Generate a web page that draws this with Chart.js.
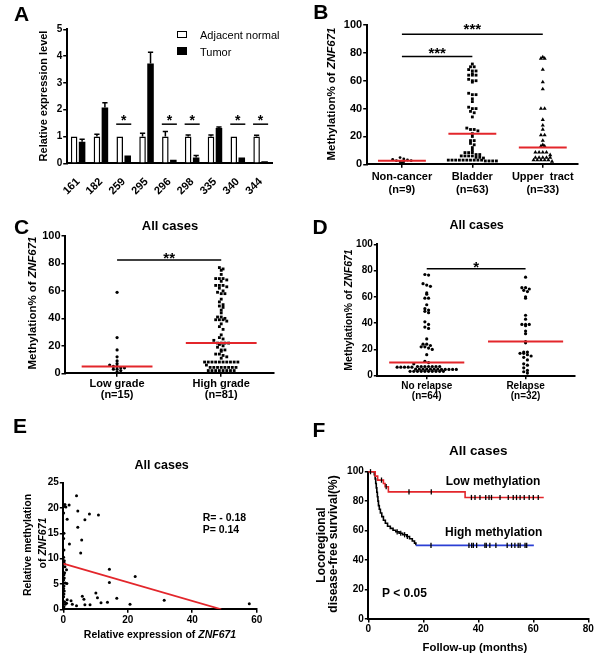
<!DOCTYPE html>
<html>
<head>
<meta charset="utf-8">
<title>ZNF671 methylation and expression</title>
<script src="https://cdn.jsdelivr.net/npm/chart.js@4.4.1/dist/chart.umd.min.js"></script>
<style>
  body {margin: 0; background: #fff;}
  #fig {position: relative; width: 600px; height: 663px; overflow: hidden;
        font-family: "Liberation Sans", Arial, sans-serif; color: #000;}
  #fig canvas {position: absolute;}
  .t {position: absolute; white-space: nowrap; line-height: 1; font-weight: bold;
      transform: translate(-50%, -50%);}
  .v {transform: translate(-50%, -50%) rotate(-90deg);}
  .l {transform: translate(0, -50%);}
  .key {position: absolute; width: 8.6px; height: 5.3px; border: 1.5px solid #000;}
</style>
</head>
<body>
<div id="fig">
  <canvas id="cA"></canvas>
  <canvas id="cB"></canvas>
  <canvas id="cC"></canvas>
  <canvas id="cD"></canvas>
  <canvas id="cE"></canvas>
  <canvas id="cF"></canvas>

  <div class="t" style="left:21.7px;top:12.5px;font-size:21px">A</div>
  <div class="t" style="left:320.8px;top:10.8px;font-size:21px">B</div>
  <div class="t" style="left:21.7px;top:225.7px;font-size:21px">C</div>
  <div class="t" style="left:320px;top:225.7px;font-size:21px">D</div>
  <div class="t" style="left:20px;top:425px;font-size:21px">E</div>
  <div class="t" style="left:319px;top:429px;font-size:21px">F</div>

  <!-- A -->
  <div class="key" style="left:176.7px;top:31px;background:#fff"></div>
  <div class="key" style="left:176.7px;top:47.3px;background:#000"></div>
  <div class="t l" style="left:200px;top:35px;font-size:11px;font-weight:normal">Adjacent normal</div>
  <div class="t l" style="left:200px;top:51.7px;font-size:11px;font-weight:normal">Tumor</div>
  <div class="t v" style="left:43.3px;top:95.8px;font-size:11px">Relative expression level</div>

  <!-- B -->
  <div class="t v" style="left:331.7px;top:94.2px;font-size:11.5px">Methylation% of <i>ZNF671</i></div>

  <!-- C -->
  <div class="t" style="left:170px;top:225px;font-size:13px">All cases</div>
  <div class="t v" style="left:33.3px;top:302.5px;font-size:11.5px">Methylation% of <i>ZNF671</i></div>

  <!-- D -->
  <div class="t" style="left:476.7px;top:225px;font-size:12.5px">All cases</div>
  <div class="t v" style="left:348.3px;top:310px;font-size:10.5px">Methylation% of <i>ZNF671</i></div>

  <!-- E -->
  <div class="t" style="left:161.7px;top:465px;font-size:12.5px">All cases</div>
  <div class="t v" style="left:26.7px;top:545px;font-size:10.5px">Relative methylation</div>
  <div class="t v" style="left:41.7px;top:543px;font-size:10.5px">of <i>ZNF671</i></div>
  <div class="t" style="left:160px;top:634.3px;font-size:10.5px">Relative expression of <i>ZNF671</i></div>
  <div class="t l" style="left:202.7px;top:517px;font-size:10.5px">R= - 0.18</div>
  <div class="t l" style="left:202.7px;top:528.7px;font-size:10.5px">P= 0.14</div>

  <!-- F -->
  <div class="t" style="left:478.3px;top:450.7px;font-size:13.5px">All cases</div>
  <div class="t v" style="left:320.7px;top:545px;font-size:12px">Locoregional</div>
  <div class="t v" style="left:333.3px;top:544px;font-size:12px">disease-free survival(%)</div>
  <div class="t" style="left:475px;top:647.7px;font-size:11.3px">Follow-up (months)</div>
  <div class="t" style="left:493px;top:480.7px;font-size:12px">Low methylation</div>
  <div class="t" style="left:493.7px;top:531.7px;font-size:12px">High methylation</div>
  <div class="t" style="left:404.5px;top:593.3px;font-size:12px">P &lt; 0.05</div>
</div>

<script>
// ---------- A: relative expression, adjacent normal vs tumor
var primers = ['161', '182', '259', '295', '296', '298', '335', '340', '344'];
var normalExpr = [1, 1, 1, 1, 1, 1, 1, 1, 1];
var normalErr = [0, 0.08, 0, 0.12, 0.19, 0.06, 0.06, 0, 0.05];
var tumorExpr = [0.8, 2.08, 0.29, 3.72, 0.13, 0.22, 1.32, 0.22, 0.08];
var tumorErr = [0.1, 0.18, 0, 0.42, 0, 0.07, 0.03, 0, 0];
var sigPrimers = ['259', '296', '298', '340', '344'];
var sigLevelA = 1.46, starLevelA = 1.72;

// ---------- B: methylation by tissue
var groupsB = [['Non-cancer', '(n=9)'], ['Bladder', '(n=63)'], ['Upper  tract', '(n=33)']];
var nonCancer = [3.6, 2.6, 1.9, 4.8, 1.2, 1.9, 3.1, 3.8, 2.6];
var bladder = [72, 70, 70, 68, 67, 67, 65, 64, 64, 64, 61, 60, 60, 59,
  51, 50, 50, 47, 45, 41, 40, 40, 38, 37, 34,
  26, 25, 25, 24, 22, 20, 17, 17, 15, 14, 12, 10,
  8.4, 8.4, 8.4, 7, 7, 6, 6, 6, 6, 5, 5, 4.5, 3, 3, 3, 3, 3, 3, 3, 3, 3, 3, 2.4, 2.4, 2.4, 2.4];
var upperTract = [77, 76, 76, 68, 59, 54, 40, 40, 32, 28, 25, 21, 21, 17, 14, 13, 13,
  8.6, 8.6, 8.6, 8.6, 6.7, 4.8, 4.8, 4.8, 4.8, 4.8, 3, 3, 3, 3, 3, 2];
var medianB = [2.5, 22, 12];
var sigB = [[1, 2, 77.3], [1, 3, 93.3]];
var starsB = [[1.5, 82.6, '***'], [2, 100, '***']];

// ---------- C: methylation by grade
var groupsC = [['Low grade', '(n=15)'], ['High grade', '(n=81)']];
var lowGrade = [59, 26, 17, 12, 9, 7, 6, 5, 5, 4, 4, 3, 3, 2, 1];
var highGrade = [77, 76, 75, 72, 69, 69, 69, 68, 67, 64, 64, 64, 63, 62, 60, 59, 58, 58,
  54, 52, 50, 49, 48, 46, 44, 41, 41, 40, 39, 39, 39, 38, 36, 34, 32,
  28, 26, 25, 24, 22, 22, 22, 22, 21, 20, 19, 17, 17, 16, 14, 14, 13, 12, 11,
  8.2, 8.2, 8.2, 8.2, 8.2, 8.2, 8.2, 8.2, 8.2, 8.2, 6, 4.3, 4.3, 4.3, 4.3, 4.3, 4.3, 4.3, 4.3,
  2, 2, 2, 2, 2, 2, 2, 2];
var medianC = [5, 22];
var sigC = [[1, 2, 82.6]];
var starsC = [[1.5, 86.8, '**']];

// ---------- D: methylation by relapse
var groupsD = [['No relapse', '(n=64)'], ['Relapse', '(n=32)']];
var noRelapse = [77, 76.6, 70, 69, 68, 63, 62, 59, 59, 54, 51, 50, 49, 48, 41, 39, 37, 36,
  28, 24, 24, 23, 22, 22, 21, 20, 16, 11, 10, 9,
  7, 7, 7, 7, 7, 7, 7, 6.5, 6.5, 6.5, 6.5, 6.5,
  5, 5, 5, 5, 5, 5, 5, 4.8, 4.8, 4.8, 4.8, 4.8,
  3.3, 3.3, 3.3, 3.3, 3.3, 3.3, 3.3, 3.3, 3.3, 3.3];
var relapse = [75, 67, 67, 66, 65, 64, 60, 59, 46, 43, 39, 39, 39, 38, 34, 32, 26, 25,
  18, 18, 17, 17, 16, 15, 14, 12, 9, 8, 6, 4, 3, 2];
var medianD = [10, 26];
var sigD = [[1, 2, 81.3]];
var starsD = [[1.5, 85.6, '*']];

// ---------- E: methylation vs expression
var exprE = [4.1, 0.5, 1.8, 0.2, 4.5, 8.1, 10.9, 1.2, 6.7, 4.5, 5.7, 1.9, 5.4, 14.3, 22.3, 14.3,
  5.9, 6.4, 10.1, 10.6, 11.7, 13.7, 16.6, 20.7, 31.3, 57.7, 1.2, 2.4, 2.8, 4.1, 6.7, 8.3, 1.0, 0.6,
  0.1, 0.2, 0.1, 0.2, 0.1, 0.3, 0.5, 1.0, 0.4, 0.2, 0.3, 0.1, 0.6, 1.1, 0.2, 0.1, 0.3, 0.2, 0.1,
  0.4, 0.2, 0.8, 0.3];
var methE = [22.4, 20.7, 20.6, 20.3, 19.4, 18.8, 18.6, 17.8, 17.7, 16.2, 13.7, 12.9, 11.1, 7.9, 6.5, 5.3,
  2.6, 2.0, 3.2, 2.3, 1.3, 1.4, 2.2, 1.0, 1.8, 1.1, 1.9, 1.7, 1.0, 0.7, 0.9, 0.9, 1.2, 1.0,
  19.0, 15.0, 14.0, 11.7, 10.3, 9.1, 8.4, 7.8, 7.2, 6.8, 6.2, 5.8, 5.2, 5.1, 4.6, 4.1, 3.6, 3.0, 2.5,
  1.5, 0.5, 20.2, 9.6];
var fitX = [0, 49];
var fitY = [9, 0];

// ---------- F: Kaplan-Meier, locoregional disease-free survival
var lowTime = [0, 2.5, 3.4, 5.5, 6.1, 7.3, 35.2, 63.8];
var lowSurv = [100, 97, 94.3, 92, 89.8, 86.3, 82.5, 82.5];
var lowCens = [0.8, 4.8, 6.5, 14.8, 22.9, 37.5, 38.8, 40.6, 42.7, 43.9, 44.8, 47.9, 50.9, 52.7,
  53.9, 55.2, 56.7, 58.5, 60, 61.8];
var highTime = [0, 2.2, 2.5, 2.7, 2.9, 3.1, 3.3, 3.5, 3.7, 4.0, 4.4, 4.9, 5.5, 6.2, 7.0, 8.0,
  9.0, 10.0, 11.2, 12.5, 14.0, 15.0, 16.0, 16.8, 17.3, 60.2];
var highSurv = [100, 98, 95, 92, 89, 86, 83, 80, 77, 74.5, 72, 69.5, 67, 65, 63, 61.5,
  60.3, 59.2, 58.2, 57.2, 56, 54.5, 53, 51.5, 50, 50];
var highCens = [10.5, 11.8, 13.2, 14.2, 22.8, 36.6, 37.6, 38.2, 39.4, 42.4, 42.9, 44.2, 46.4,
  50.5, 52.1, 53.3, 54.5, 55.2, 57, 57.6];

var FONT = '"Liberation Sans", Arial, sans-serif';
var RED = '#e3262b', BLUE = '#2b3fd4';
Chart.defaults.font.family = FONT;
Chart.defaults.color = '#000';

// canvas box (x, y, w, h) and plot area (l, t, r, b), page pixels
var boxA = {x: 0, y: 0, w: 300, h: 200, l: 66.7, t: 29.3, r: 272, b: 163.3};
var boxB = {x: 300, y: 0, w: 300, h: 200, l: 366.7, t: 25, r: 578, b: 164.3};
var boxC = {x: 0, y: 200, w: 300, h: 205, l: 65, t: 236, r: 273.3, b: 373.3};
var boxD = {x: 300, y: 200, w: 300, h: 205, l: 377.3, t: 244.3, r: 575, b: 375.7};
var boxE = {x: 0, y: 420, w: 300, h: 243, l: 63.3, t: 482.7, r: 256.7, b: 609.3};
var boxF = {x: 300, y: 420, w: 300, h: 243, l: 368.3, t: 471.7, r: 588.3, b: 619};

function place(id, box) {
  var c = document.getElementById(id);
  c.width = box.w; c.height = box.h;
  c.style.left = box.x + 'px'; c.style.top = box.y + 'px';
  return c;
}

function baseOptions(box, scales) {
  return {
    responsive: false, animation: false, events: [],
    layout: {padding: {left: 0, top: box.t - box.y, right: box.x + box.w - box.r, bottom: 0}},
    plugins: {legend: {display: false}, tooltip: {enabled: false}},
    scales: scales
  };
}

function yAxis(box, min, max, step, size) {
  return {
    type: 'linear', position: 'left', min: min, max: max,
    ticks: {stepSize: step, padding: 1, color: '#000', font: {size: size, weight: 'bold'}},
    grid: {drawOnChartArea: false, color: '#000', lineWidth: 1.5, tickLength: 3.5},
    border: {color: '#000', width: 2},
    afterFit: function (s) { s.width = box.l - box.x; }
  };
}

function xAxis(box, min, max, step, size) {
  return {
    type: 'linear', position: 'bottom', min: min, max: max,
    ticks: {stepSize: step, padding: 1, color: '#000', maxRotation: 0, font: {size: size, weight: 'bold'}},
    grid: {drawOnChartArea: false, color: '#000', lineWidth: 1.5, tickLength: 3.5},
    border: {color: '#000', width: 2},
    afterFit: function (s) { s.height = box.y + box.h - box.b; }
  };
}

// group axis for the dot plots: one tick per column
function groupAxis(box, groups, size, lineHeight) {
  var ax = xAxis(box, 0.5, groups.length + 0.5, 1, size);
  ax.ticks.padding = 2.5;
  ax.ticks.autoSkip = false;
  ax.ticks.font.lineHeight = lineHeight;
  ax.ticks.callback = function (v) { return groups[v - 1]; };
  ax.afterBuildTicks = function (s) {
    s.ticks = groups.map(function (g, i) { return {value: i + 1}; });
  };
  return ax;
}

// sig lines + stars, in data units
function marks(lines, stars, size) {
  return {
    id: 'marks',
    afterDatasetsDraw: function (chart) {
      var ctx = chart.ctx, xs = chart.scales.x, ys = chart.scales.y;
      ctx.save();
      ctx.strokeStyle = '#000'; ctx.fillStyle = '#000'; ctx.lineWidth = 1.5;
      lines.forEach(function (l) {
        var y = ys.getPixelForValue(l[2]);
        ctx.beginPath();
        ctx.moveTo(xs.getPixelForValue(l[0]), y);
        ctx.lineTo(xs.getPixelForValue(l[1]), y);
        ctx.stroke();
      });
      ctx.font = 'bold ' + size + 'px ' + FONT;
      ctx.textAlign = 'center'; ctx.textBaseline = 'alphabetic';
      stars.forEach(function (s) {
        ctx.fillText(s[2], xs.getPixelForValue(s[0]), ys.getPixelForValue(s[1]) + 0.57 * size);
      });
      ctx.restore();
    }
  };
}

// column scatter layout: values falling in the same pixel row are spread
// sideways, centred on the column (pixel offsets)
function swarm(vals, pxPerUnit, rowPx, gap) {
  var rows = {}, off = [];
  vals.forEach(function (v, i) {
    var r = Math.round(v * pxPerUnit / rowPx);
    (rows[r] = rows[r] || []).push(i);
  });
  Object.keys(rows).forEach(function (r) {
    var ids = rows[r], n = ids.length;
    ids.forEach(function (id, k) { off[id] = (k - (n - 1) / 2) * gap; });
  });
  return off;
}

function dotPlot(id, box, groups, sets, shapes, radii, medians, halfW, sig, stars, tickSize, lineHeight) {
  var catW = (box.r - box.l) / groups.length, pxY = (box.b - box.t) / 100;
  var datasets = [];
  medians.forEach(function (m, g) {
    datasets.push({data: [{x: g + 1 - halfW, y: m}, {x: g + 1 + halfW, y: m}], showLine: true,
      borderColor: RED, borderWidth: 2, pointRadius: 0, order: 0});
  });
  sets.forEach(function (vals, g) {
    var off = swarm(vals, pxY, 3.5, 3.7);
    datasets.push({
      data: vals.map(function (v, i) { return {x: g + 1 + off[i] / catW, y: v}; }),
      pointStyle: shapes[g], pointRadius: radii[g], backgroundColor: '#000', borderWidth: 0,
      clip: false, order: 1
    });
  });
  return new Chart(place(id, box), {
    type: 'scatter',
    data: {datasets: datasets},
    options: baseOptions(box, {
      x: groupAxis(box, groups, tickSize, lineHeight),
      y: yAxis(box, 0, 100, 20, tickSize)
    }),
    plugins: [marks(sig, stars, 15)]
  });
}

// ---------- A
(function () {
  var sigLines = [], sigStars = [];
  sigPrimers.forEach(function (p) {
    var i = primers.indexOf(p);
    sigLines.push([i - 0.33, i + 0.33, sigLevelA]);
    sigStars.push([i, starLevelA, '*']);
  });
  var errorBars = {
    id: 'errorBars',
    afterDatasetsDraw: function (chart) {
      var ctx = chart.ctx, ys = chart.scales.y;
      ctx.save();
      ctx.strokeStyle = '#000'; ctx.lineWidth = 1.5;
      chart.data.datasets.forEach(function (d, di) {
        chart.getDatasetMeta(di).data.forEach(function (bar, j) {
          var e = d.errorBars[j];
          if (!e) return;
          var y0 = ys.getPixelForValue(d.data[j]), y1 = ys.getPixelForValue(d.data[j] + e);
          var hw = bar.width * 0.4;
          ctx.beginPath();
          ctx.moveTo(bar.x, y0); ctx.lineTo(bar.x, y1);
          ctx.moveTo(bar.x - hw, y1); ctx.lineTo(bar.x + hw, y1);
          ctx.stroke();
        });
      });
      ctx.restore();
    }
  };
  var x = {
    type: 'category', offset: true,
    ticks: {minRotation: 45, maxRotation: 45, autoSkip: false, padding: 4, color: '#000',
      font: {size: 11, weight: 'bold'}},
    grid: {display: false},
    border: {color: '#000', width: 2},
    afterFit: function (s) { s.height = boxA.y + boxA.h - boxA.b; }
  };
  new Chart(place('cA', boxA), {
    type: 'bar',
    data: {
      labels: primers,
      datasets: [
        {label: 'Adjacent normal', data: normalExpr, errorBars: normalErr, backgroundColor: '#fff',
          borderColor: '#000', borderWidth: 1.5, categoryPercentage: 0.7, barPercentage: 0.82},
        {label: 'Tumor', data: tumorExpr, errorBars: tumorErr, backgroundColor: '#000',
          borderColor: '#000', borderWidth: 0, categoryPercentage: 0.7, barPercentage: 0.82}
      ]
    },
    options: baseOptions(boxA, {x: x, y: yAxis(boxA, 0, 5, 1, 10)}),
    plugins: [errorBars, marks(sigLines, sigStars, 14)]
  });
})();

// ---------- B, C, D
dotPlot('cB', boxB, groupsB, [nonCancer, bladder, upperTract], ['circle', 'rect', 'triangle'],
  [1.4, 2, 2.4], medianB, 0.34, sigB, starsB, 11, 1.2);
dotPlot('cC', boxC, groupsC, [lowGrade, highGrade], ['circle', 'rect'], [1.6, 2],
  medianC, 0.34, sigC, starsC, 11, 0.92);
dotPlot('cD', boxD, groupsD, [noRelapse, relapse], ['circle', 'circle'], [1.6, 1.6],
  medianD, 0.38, sigD, starsD, 10, 0.95);

// ---------- E
new Chart(place('cE', boxE), {
  type: 'scatter',
  data: {
    datasets: [
      {data: fitX.map(function (v, i) { return {x: v, y: fitY[i]}; }), showLine: true,
        borderColor: RED, borderWidth: 1.8, pointRadius: 0, order: 0},
      {data: exprE.map(function (v, i) { return {x: v, y: methE[i]}; }), pointRadius: 1.5,
        backgroundColor: '#000', borderWidth: 0, clip: false, order: 1}
    ]
  },
  options: baseOptions(boxE, {x: xAxis(boxE, 0, 60, 20, 10), y: yAxis(boxE, 0, 25, 5, 10)})
});

// ---------- F
function survAt(times, surv, t) {
  var s = surv[0];
  for (var i = 0; i < times.length; i++) if (times[i] <= t) s = surv[i];
  return s;
}
function curve(times, surv) {
  return times.map(function (t, i) { return {x: t, y: surv[i]}; });
}
function censors(cens, times, surv) {
  return cens.map(function (t) { return {x: t, y: survAt(times, surv, t)}; });
}
var tickMark = {pointStyle: 'line', rotation: 90, pointRadius: 2.6, borderColor: '#000',
  borderWidth: 1.3, showLine: false, clip: false, order: 0};
new Chart(place('cF', boxF), {
  type: 'scatter',
  data: {
    datasets: [
      Object.assign({data: censors(lowCens, lowTime, lowSurv)}, tickMark),
      Object.assign({data: censors(highCens, highTime, highSurv)}, tickMark),
      {data: curve(lowTime, lowSurv), showLine: true, stepped: true, borderColor: RED,
        borderWidth: 1.6, pointRadius: 0, clip: false, order: 1},
      {data: curve(highTime, highSurv), showLine: true, stepped: true, borderWidth: 1.6,
        pointRadius: 0, clip: false, order: 2, borderColor: '#000',
        segment: {borderColor: function (c) { return c.p1DataIndex === highTime.length - 1 ? BLUE : '#000'; }}}
    ]
  },
  options: baseOptions(boxF, {x: xAxis(boxF, 0, 80, 20, 10), y: yAxis(boxF, 0, 100, 20, 10)})
});
</script>
</body>
</html>
